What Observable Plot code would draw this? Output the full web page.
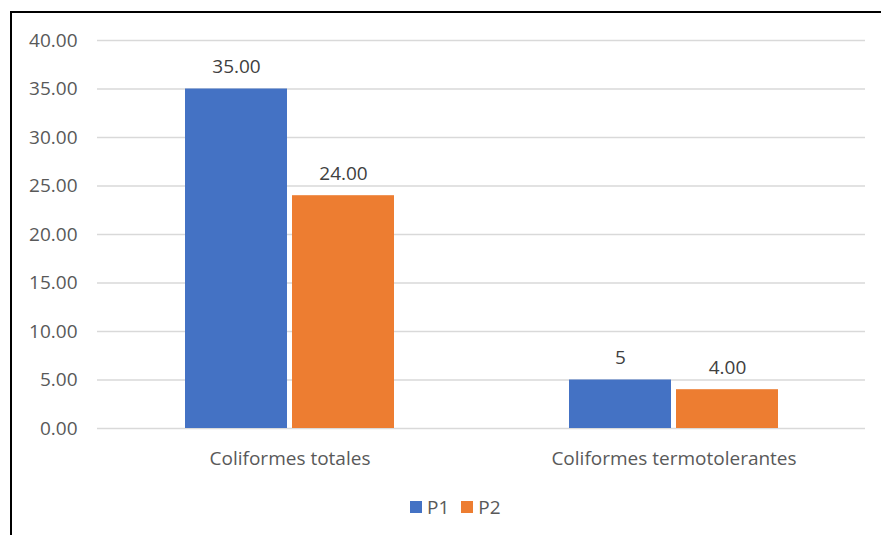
<!DOCTYPE html>
<html>
<head>
<meta charset="utf-8">
<script src="https://cdn.jsdelivr.net/npm/d3@7"></script>
<script src="https://cdn.jsdelivr.net/npm/@observablehq/plot@0.6"></script>
<style>
  html, body { margin: 0; padding: 0; background: #fff; overflow: hidden; width: 881px; height: 535px; }
  #chart { position: absolute; left: 0; top: 0; }
  #frame { position: absolute; left: 10px; top: 11px; width: 950px; height: 600px; border: 2px solid #000; box-sizing: border-box; z-index: 2; pointer-events: none; }
  #legend { position: absolute; left: 410px; top: 495px; display: flex; align-items: center; font-family: "Open Sans", sans-serif; font-size: 19px; color: #595959; }
  #legend .sw { width: 12px; height: 12px; display: inline-block; }
  #legend .lab { margin-left: 5px; margin-right: 12px; line-height: 24px; }
</style>
</head>
<body>
<div id="chart"></div>
<div id="legend"></div>
<div id="frame"></div>
<script>
const categories = ["Coliformes totales", "Coliformes termotolerantes"];
const seriesNames = ["P1", "P2"];
const seriesColors = ["#4472C4", "#ED7D31"];
const p1Values = [35, 5];
const p2Values = [24, 4];
const p1Labels = ["35.00", "5"];
const p2Labels = ["24.00", "4.00"];
const yTicks = [0, 5, 10, 15, 20, 25, 30, 35, 40];

const p1Rows = categories.map((c, i) => ({category: c, series: "P1", value: p1Values[i], label: p1Labels[i]}));
const p2Rows = categories.map((c, i) => ({category: c, series: "P2", value: p2Values[i], label: p2Labels[i]}));

const font = "'Open Sans', sans-serif";

const chart = Plot.plot({
  width: 881,
  height: 480,
  marginLeft: 97,
  marginRight: 16,
  marginTop: 40,
  marginBottom: 52,
  style: {fontFamily: font, fontSize: "19px", color: "#595959", background: "transparent", overflow: "visible"},
  x: {domain: categories, paddingInner: 0.456, paddingOuter: 0.228, label: null, tickSize: 0, tickPadding: 23},
  y: {domain: [0, 40], ticks: yTicks, tickFormat: d => d.toFixed(2), label: null, tickSize: 0, tickPadding: 20},
  marks: [
    Plot.ruleY(yTicks, {stroke: "#d9d9d9", strokeWidth: 1.5}),
    Plot.barY(p1Rows, {x: "category", y: "value", fill: seriesColors[0], insetRight: 107}),
    Plot.barY(p2Rows, {x: "category", y: "value", fill: seriesColors[1], insetLeft: 107}),
    Plot.text(p1Rows, {x: "category", y: "value", text: "label", dx: -53.5, dy: -22, fill: "#404040", fontSize: 19}),
    Plot.text(p2Rows, {x: "category", y: "value", text: "label", dx: 53.5, dy: -22, fill: "#404040", fontSize: 19})
  ]
});
document.getElementById("chart").appendChild(chart);

const legend = document.getElementById("legend");
seriesNames.forEach((name, i) => {
  const sw = document.createElement("span");
  sw.className = "sw";
  sw.style.background = seriesColors[i];
  const lab = document.createElement("span");
  lab.className = "lab";
  lab.textContent = name;
  legend.appendChild(sw);
  legend.appendChild(lab);
});
</script>
</body>
</html>
